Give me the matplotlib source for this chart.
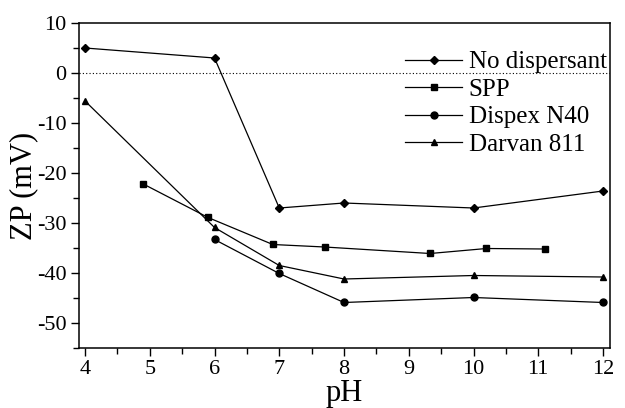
import matplotlib
matplotlib.use("Agg")
import matplotlib.pyplot as plt
from matplotlib.ticker import MultipleLocator

plt.rcParams['font.family'] = ['Liberation Serif', 'DejaVu Serif']

# data
ph_none = [4, 6, 7, 8, 10, 12]
zp_none = [5, 3, -27, -26, -27, -23.6]

ph_spp = [4.9, 5.9, 6.9, 7.7, 9.33, 10.2, 11.1]
zp_spp = [-22.2, -28.9, -34.3, -34.8, -36.1, -35.1, -35.2]

ph_dispex = [6, 7, 8, 10, 12]
zp_dispex = [-33.3, -40.1, -45.9, -44.9, -45.9]

ph_darvan = [4, 6, 7, 8, 10, 12]
zp_darvan = [-5.6, -30.9, -38.5, -41.2, -40.5, -40.8]

fig = plt.figure(figsize=(6.25, 4.08), dpi=100)
ax = fig.add_axes([79/625, 1 - 348/408, (610 - 79)/625, (348 - 23)/408])

ax.axhline(0, color='black', linestyle=(0, (1, 2)), linewidth=0.8)

kw = dict(color='black', linewidth=0.9)
ax.plot(ph_none, zp_none, marker='D', markersize=4.5, label='No dispersant', **kw)
ax.plot(ph_spp, zp_spp, marker='s', markersize=4.5, label='SPP', **kw)
ax.plot(ph_dispex, zp_dispex, marker='o', markersize=5, label='Dispex N40', **kw)
ax.plot(ph_darvan, zp_darvan, marker='^', markersize=5, label='Darvan 811', **kw)

ax.set_xlim(3.907, 12.108)
ax.set_ylim(-55, 10)
ax.xaxis.set_major_locator(MultipleLocator(1))
ax.xaxis.set_minor_locator(MultipleLocator(0.5))
ax.yaxis.set_major_locator(MultipleLocator(10))
ax.yaxis.set_minor_locator(MultipleLocator(5))
ax.tick_params(which='major', direction='out', length=6, width=1, labelsize=16,
               top=False, right=False, pad=3)
ax.tick_params(which='minor', direction='out', length=4, width=1,
               top=False, right=False)
ax.xaxis.set_major_formatter(plt.FuncFormatter(lambda v, p: '%d' % v))
ax.yaxis.set_major_formatter(plt.FuncFormatter(lambda v, p: '%d' % v))
for s in ax.spines.values():
    s.set_linewidth(1.1)

ax.set_xlabel('pH', fontsize=22, labelpad=0)
ax.set_ylabel('ZP (mV)', fontsize=22, labelpad=-1)

ax.legend(loc='upper right', frameon=False, fontsize=18, handlelength=2.3,
          handletextpad=0.25, labelspacing=0.2, borderaxespad=0.0,
          borderpad=0.2, bbox_to_anchor=(1.003, 0.93))

fig.savefig('out.png', dpi=100)
